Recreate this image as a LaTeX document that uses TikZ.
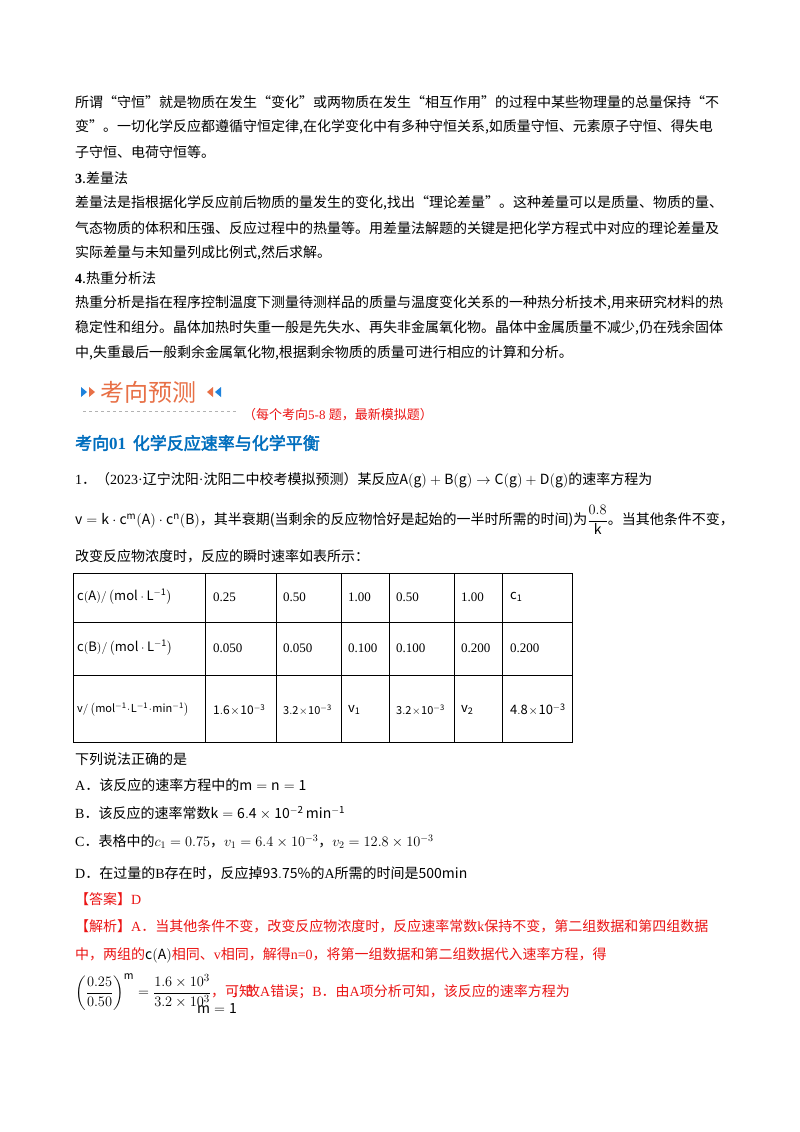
\documentclass[tikz,border=0pt]{standalone}
\usepackage{amsmath}
\usepackage{fontspec}
\setmainfont{Noto Sans CJK SC}
\newfontfamily\cjkb[FakeBold=2.5]{Noto Sans CJK SC}
\newfontfamily\ser{Liberation Serif}
\definecolor{myred}{RGB}{235,20,20}
\definecolor{myblue}{RGB}{0,110,190}
\definecolor{myorange}{RGB}{232,112,70}
\definecolor{bblue}{RGB}{30,130,220}
\tikzset{txt/.style={anchor=west,inner sep=0pt,font=\fontsize{14}{16}\selectfont},
 cell/.style={anchor=west,inner sep=0pt,font=\ser\fontsize{13}{15}\selectfont}}
\begin{document}
\begin{tikzpicture}[x=1pt,y=-1pt]
\useasboundingbox[fill=white] (0,0) rectangle (800,1132);
\node[txt] (l1) at (75,102) {所谓“守恒”就是物质在发生“变化”或两物质在发生“相互作用”的过程中某些物理量的总量保持“不};
\node[txt] (l2) at (75,127) {变”。一切化学反应都遵循守恒定律,在化学变化中有多种守恒关系,如质量守恒、元素原子守恒、得失电};
\node[txt] (l3) at (75,152) {子守恒、电荷守恒等。};
\node[txt] (l4) at (75,178) {{\bfseries\ser 3}.差量法};
\node[txt] (l5) at (75,203) {差量法是指根据化学反应前后物质的量发生的变化,找出“理论差量”。这种差量可以是质量、物质的量、};
\node[txt] (l6) at (75,228) {气态物质的体积和压强、反应过程中的热量等。用差量法解题的关键是把化学方程式中对应的理论差量及};
\node[txt] (l7) at (75,253) {实际差量与未知量列成比例式,然后求解。};
\node[txt] (l8) at (75,278) {{\bfseries\ser 4}.热重分析法};
\node[txt] (l9) at (75,303) {热重分析是指在程序控制温度下测量待测样品的质量与温度变化关系的一种热分析技术,用来研究材料的热};
\node[txt] (l10) at (75,328) {稳定性和组分。晶体加热时失重一般是先失水、再失非金属氧化物。晶体中金属质量不减少,仍在残余固体};
\node[txt] (l11) at (75,353) {中,失重最后一般剩余金属氧化物,根据剩余物质的质量可进行相应的计算和分析。};
% banner
\fill[bblue] (81,387)--(87,392)--(81,397)--cycle;
\fill[myorange] (89,387)--(95,392)--(89,397)--cycle;
\node[anchor=west,inner sep=0pt,text=myorange,font=\fontsize{24}{26}\selectfont] (ban) at (100,392) {考向预测};
\fill[myorange] (213,387)--(207,392)--(213,397)--cycle;
\fill[bblue] (221,387)--(215,392)--(221,397)--cycle;
\coordinate (da) at (83,411); \coordinate (db) at (238,411);
\draw[gray!60,dashed,line width=0.6pt] (da)--(db);
\node[txt,text=myred,font=\fontsize{13}{14}\selectfont] (sub) at (243,415) {（每个考向{\ser 5-8 }题，最新模拟题）};
\node[txt,text=myblue,font=\cjkb\fontsize{17}{18}\selectfont] (h1) at (75,443) {考向{\ser\bfseries 01}\, 化学反应速率与化学平衡};
\node[txt] (q1) at (75,480) {{\ser 1}．（{\ser 2023·}辽宁沈阳{\ser·}沈阳二中校考模拟预测）某反应$\mathrm{A(g)+B(g)\to C(g)+D(g)}$的速率方程为};
\node[txt] (q2) at (75,520) {$\mathrm{v=k\cdot c^m(A)\cdot c^n(B)}$，其半衰期(当剩余的反应物恰好是起始的一半时所需的时间)为$\dfrac{0.8}{\mathrm{k}}$。当其他条件不变，};
\node[txt] (q3) at (75,556) {改变反应物浓度时，反应的瞬时速率如表所示：};
% table
\draw[line width=0.8pt] (73,573) rectangle (572,742);
\foreach \y in {622,675} \draw[line width=0.8pt] (73,\y)--(572,\y);
\foreach \x in {205,276,341,389,454,502} \draw[line width=0.8pt] (\x,573)--(\x,742);
\node[cell] (r1) at (77,597) {$\mathrm{c(A)/\left(mol\cdot L^{-1}\right)}$};
\node[cell] (r2) at (77,648) {$\mathrm{c(B)/\left(mol\cdot L^{-1}\right)}$};
\node[cell,font=\ser\fontsize{11}{13}\selectfont] (r3) at (77,710) {$\mathrm{v/\left(mol^{-1}\!\cdot\! L^{-1}\!\cdot\! min^{-1}\right)}$};
\foreach \x/\t in {213/0.25,283/0.50,348/1.00,396/0.50,461/1.00} \node[cell] at (\x,597) {\t};
\node[cell] at (510,597) {$\mathrm{c_1}$};
\foreach \x/\t in {213/0.050,283/0.050,348/0.100,396/0.100,461/0.200,510/0.200} \node[cell] at (\x,648) {\t};
\node[cell,font=\ser\fontsize{12}{13}\selectfont] at (213,710) {$\mathrm{1.6\!\times\!10^{-3}}$};
\node[cell,font=\ser\fontsize{11}{13}\selectfont] at (283,710) {$\mathrm{3.2\!\times\!10^{-3}}$};
\node[cell] at (348,710) {$\mathrm{v_1}$};
\node[cell,font=\ser\fontsize{11}{13}\selectfont] at (396,710) {$\mathrm{3.2\!\times\!10^{-3}}$};
\node[cell] at (461,710) {$\mathrm{v_2}$};
\node[cell] at (510,710) {$\mathrm{4.8\!\times\!10^{-3}}$};
% options
\node[txt] (o0) at (75,759) {下列说法正确的是};
\node[txt] (oa) at (75,785) {{\ser A}．该反应的速率方程中的$\mathrm{m=n=1}$};
\node[txt] (ob) at (75,813) {{\ser B}．该反应的速率常数$\mathrm{k=6.4\times10^{-2}\,min^{-1}}$};
\node[txt] (oc) at (75,842) {{\ser C}．表格中的$c_1=0.75$，$v_1=6.4\times10^{-3}$，$v_2=12.8\times10^{-3}$};
\node[txt] (od) at (75,873) {{\ser D}．在过量的{\ser B}存在时，反应掉$\mathrm{93.75\%}$的{\ser A}所需的时间是$\mathrm{500min}$};
\node[txt,text=myred] (ans) at (75,899) {【答案】{\ser D}};
\node[txt,text=myred] (e1) at (75,926) {【解析】{\ser A}．当其他条件不变，改变反应物浓度时，反应速率常数{\ser k}保持不变，第二组数据和第四组数据};
\node[txt,text=myred] (e2) at (75,955) {中，两组的\textcolor{black}{$\mathrm{c(A)}$}相同、{\ser v}相同，解得{\ser n=0}，将第一组数据和第二组数据代入速率方程，得};
\node[txt,font=\fontsize{15}{17}\selectfont] (e3) at (75,992) {$\left(\dfrac{0.25}{0.50}\right)^{\mathrm{m}}=\dfrac{1.6\times10^3}{3.2\times10^3}$\textcolor{myred}{\fontsize{14}{16}\selectfont，可知}};
\node[txt] (m1) at (197,1008) {$\mathrm{m=1}$};
\node[txt,text=myred] (e4) at (232,992) {，故{\ser A}错误；{\ser B}．由{\ser A}项分析可知，该反应的速率方程为};
\end{tikzpicture}
\end{document}
